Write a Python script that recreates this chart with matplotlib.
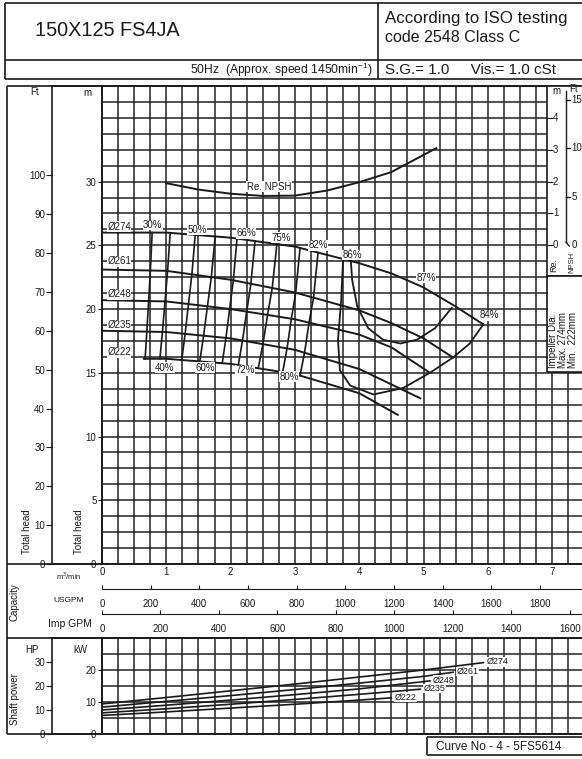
import numpy as np
import matplotlib
matplotlib.use('Agg')
import matplotlib.pyplot as plt
from matplotlib.patches import Rectangle

plt.rcParams['font.family'] = ['Liberation Sans', 'DejaVu Sans']

W, H = 582, 759
INK = '#1a1a1a'
GRID = '#2a2a2a'

# ---------------- data ----------------
diameters = ['Ø274', 'Ø261', 'Ø248', 'Ø235', 'Ø222']

# head curves: capacity (m3/min) and total head (m)
q_274 = [0.0, 1.0, 2.0, 3.0, 4.0, 4.5, 5.0, 5.5, 5.93]
h_274 = [26.0, 26.0, 25.6, 24.9, 23.6, 22.8, 21.7, 20.2, 18.8]
q_261 = [0.0, 1.0, 2.0, 3.0, 4.0, 4.5, 5.0, 5.46]
h_261 = [23.1, 23.0, 22.3, 21.3, 19.9, 18.9, 17.7, 16.2]
q_248 = [0.0, 1.0, 2.0, 3.0, 4.0, 4.5, 5.1]
h_248 = [20.7, 20.6, 20.0, 19.2, 18.0, 17.0, 15.0]
q_235 = [0.0, 1.0, 2.0, 3.0, 4.0, 4.95]
h_235 = [18.3, 18.2, 17.7, 16.8, 15.3, 13.0]
q_222 = [0.65, 1.0, 2.0, 3.0, 4.0, 4.6]
h_222 = [16.1, 16.1, 15.7, 14.9, 13.4, 11.7]

# iso-efficiency lines: capacity where each meets Ø274 ... Ø222
eff_labels = ['30%', '40%', '50%', '60%', '66%', '72%', '75%', '80%', '82%']
eff_q_top = [0.78, 1.06, 1.45, 1.76, 2.10, 2.38, 2.72, 3.08, 3.36]
eff_q_bot = [0.67, 0.90, 1.24, 1.52, 1.87, 2.12, 2.43, 2.81, 3.08]

# closed efficiency contours (capacity, head)
eff87_q = [3.86, 3.89, 3.97, 4.14, 4.37, 4.64, 4.90, 5.18, 5.44]
eff87_h = [24.6, 22.3, 20.2, 18.5, 17.6, 17.3, 17.6, 18.5, 20.1]
eff86_q = [3.75, 3.72, 3.67, 3.70, 3.86, 4.22, 4.68]
eff86_h = [24.0, 20.7, 17.6, 15.2, 14.0, 13.3, 13.8]
eff84_q = [5.93, 5.72, 5.46, 5.10, 4.68]
eff84_h = [18.8, 17.3, 16.2, 15.0, 13.8]

# required NPSH (m)
npsh_q = [1.0, 1.5, 2.0, 2.5, 3.0, 3.5, 4.0, 4.5, 5.2]
npsh_m = [1.95, 1.75, 1.62, 1.55, 1.56, 1.72, 1.98, 2.30, 3.05]

# shaft power (kW)
pq_274 = [0.0, 1.0, 2.0, 3.0, 4.0, 5.0, 5.93]
pk_274 = [9.4, 11.4, 13.5, 15.6, 17.8, 20.0, 22.3]
pq_261 = [0.0, 1.0, 2.0, 3.0, 4.0, 5.0, 5.46]
pk_261 = [8.4, 10.2, 12.0, 13.9, 15.9, 18.0, 19.3]
pq_248 = [0.0, 1.0, 2.0, 3.0, 4.0, 5.1]
pk_248 = [7.5, 9.0, 10.6, 12.3, 14.1, 16.6]
pq_235 = [0.0, 1.0, 2.0, 3.0, 4.0, 4.95]
pk_235 = [6.6, 7.9, 9.3, 10.8, 12.4, 14.0]
pq_222 = [0.0, 1.0, 2.0, 3.0, 4.0, 4.5]
pk_222 = [5.8, 6.9, 8.1, 9.3, 10.6, 11.3]

# scales / ticks
q_ticks = [0, 1, 2, 3, 4, 5, 6, 7]
usgpm_ticks = [0, 200, 400, 600, 800, 1000, 1200, 1400, 1600, 1800]
impgpm_ticks = [0, 200, 400, 600, 800, 1000, 1200, 1400, 1600]
head_m_ticks = [0, 5, 10, 15, 20, 25, 30]
head_ft_ticks = [0, 10, 20, 30, 40, 50, 60, 70, 80, 90, 100]
npsh_m_ticks = [0, 1, 2, 3, 4]
npsh_ft_ticks = [0, 5, 10, 15]
kw_ticks = [0, 10, 20]
hp_ticks = [0, 10, 20, 30]

M3MIN_TO_USGPM = 264.172
M3MIN_TO_IMPGPM = 219.969
FT = 0.3048
HP = 0.7457

# ---------------- layout helpers ----------------
QMAX = 7.5
X0, XPX = 102, 64.3
XR = X0 + QMAX * XPX
HMAX = 37.5


def fr(x0, y0, x1, y1):
    return [x0 / W, 1 - y1 / H, (x1 - x0) / W, (y1 - y0) / H]


fig = plt.figure(figsize=(W / 100, H / 100), dpi=100)

# ---------------- head chart ----------------
ax = fig.add_axes(fr(X0, 86, XR, 564))
ax.set_xlim(0, QMAX)
ax.set_ylim(0, HMAX)
ax.set_xticks(q_ticks)
ax.set_xticks(np.arange(0, QMAX + 0.01, 0.25), minor=True)
ax.set_yticks(head_m_ticks)
ax.set_yticks(np.arange(0, HMAX + 0.01, 1.25), minor=True)
ax.grid(which='both', color=GRID, lw=1.15)
ax.set_axisbelow(True)
ax.tick_params(axis='x', which='both', length=0, labelsize=7, pad=2, colors=INK)
ax.tick_params(axis='y', which='major', length=3, labelsize=7, pad=1, colors=INK)
ax.tick_params(axis='y', which='minor', length=0)
for s in ax.spines.values():
    s.set_color(INK)
    s.set_linewidth(1.2)

curves = [(q_274, h_274), (q_261, h_261), (q_248, h_248), (q_235, h_235), (q_222, h_222)]
for q, h in curves:
    ax.plot(q, h, color=INK, lw=1.4, zorder=3)

for i, lab in enumerate(eff_labels):
    qs = np.linspace(eff_q_top[i], eff_q_bot[i], len(curves))
    hs = [np.interp(qq, c[0], c[1]) for qq, c in zip(qs, curves)]
    ax.plot(qs, hs, color=INK, lw=1.2, zorder=3)

ax.plot(eff87_q, eff87_h, color=INK, lw=1.3, zorder=3)
ax.plot(eff86_q, eff86_h, color=INK, lw=1.3, zorder=3)
ax.plot(eff84_q, eff84_h, color=INK, lw=1.3, zorder=3)

npsh_head = [25 + 2.5 * v for v in npsh_m]
ax.plot(npsh_q, npsh_head, color=INK, lw=1.4, zorder=3)

lab_kw = dict(fontsize=7, color=INK, zorder=4)
top_pos = {'30%': (0.79, 26.6), '50%': (1.48, 26.2), '66%': (2.24, 25.95),
           '75%': (2.78, 25.6), '82%': (3.36, 25.0)}
bot_pos = {'40%': (0.98, 15.4), '60%': (1.60, 15.4), '72%': (2.22, 15.2),
           '80%': (2.91, 14.7)}
for lab, (x, y) in {**top_pos, **bot_pos}.items():
    ax.text(x, y, lab, ha='center', va='center',
            bbox=dict(fc='white', ec='none', pad=0.3), **lab_kw)
ax.text(3.89, 24.25, '86%', ha='center', va='center', bbox=dict(fc='white', ec='none', pad=0.3), **lab_kw)
ax.text(5.04, 22.45, '87%', ha='center', va='center', bbox=dict(fc='white', ec='none', pad=0.3), **lab_kw)
ax.text(6.02, 19.5, '84%', ha='center', va='center', bbox=dict(fc='white', ec='none', pad=0.3), **lab_kw)
ax.text(2.25, 29.6, 'Re. NPSH', ha='left', va='center', bbox=dict(fc='white', ec='none', pad=0.3), **lab_kw)

d_pos = [26.45, 23.75, 21.15, 18.75, 16.6]
for lab, y in zip(diameters, d_pos):
    ax.text(0.08, y, lab, ha='left', va='center',
            bbox=dict(fc='white', ec='none', pad=0.3), **lab_kw)

# Ft scale (m-column box)
axf = fig.add_axes(fr(52, 86, X0, 564))
axf.set_facecolor('none')
axf.set_ylim(0, HMAX / FT)
axf.set_xlim(0, 1)
axf.set_yticks(head_ft_ticks)
axf.set_xticks([])
axf.tick_params(axis='y', length=4, labelsize=7, pad=1, colors=INK)
for s in axf.spines.values():
    s.set_color(INK)
    s.set_linewidth(1.2)
axf.text(0.7, 0.985, 'm', transform=axf.transAxes, ha='center', va='center', fontsize=7, color=INK)

# ---------------- NPSH panel (right) ----------------
h_top = HMAX
h_bot = HMAX * (564 - 276) / 478
axn = fig.add_axes(fr(547, 86, 600, 276))
axn.set_zorder(5)
axn.set_facecolor('white')
axn.set_xlim(0, 1)
axn.set_ylim((h_bot - 25) / 2.5, (h_top - 25) / 2.5)
axn.set_yticks(npsh_m_ticks)
axn.set_xticks([])
axn.tick_params(axis='y', direction='in', length=4, labelleft=False, colors=INK)
for k, s in axn.spines.items():
    s.set_color(INK)
    s.set_linewidth(1.2)
    s.set_visible(k in ('left', 'bottom'))
ytr = axn.get_yaxis_transform()
for v in npsh_m_ticks:
    axn.text(0.11, v, str(v), transform=ytr, ha='left', va='center', fontsize=7, color=INK)
fx = 19 / 53
ft_m = [v * FT for v in npsh_ft_ticks]
axn.plot([fx, fx], [0.1, 4.85], transform=ytr, color=INK, lw=1.0)
axn.plot([fx, fx + 0.06], [0.1, -0.02], transform=ytr, color=INK, lw=1.0)
for v, m in zip(npsh_ft_ticks, ft_m):
    if v > 0:
        axn.plot([fx, fx + 0.07], [m, m], transform=ytr, color=INK, lw=1.0)
    axn.text(fx + 0.10, m, str(v), transform=ytr, ha='left', va='center', fontsize=7, color=INK)
axn.text(0.1, 0.975, 'm', transform=axn.transAxes, ha='left', va='center', fontsize=7, color=INK)
axn.text(0.42, 0.985, 'Ft', transform=axn.transAxes, ha='left', va='center', fontsize=7, color=INK)
axn.text(0.12, 0.02, 'Re.', transform=axn.transAxes, rotation=90, rotation_mode='anchor',
         ha='left', va='center', fontsize=6.5, color=INK)
axn.text(0.47, 0.015, 'NPSH', transform=axn.transAxes, rotation=90, rotation_mode='anchor',
         ha='left', va='center', fontsize=5.5, color=INK)

# ---------------- capacity scales ----------------
axu = fig.add_axes(fr(X0, 589, XR, 591))
axu.set_xlim(0, QMAX * M3MIN_TO_USGPM)
axu.set_xticks(usgpm_ticks)
axu.set_yticks([])
axu.set_facecolor('none')
axu.tick_params(axis='x', top=True, bottom=False, labeltop=False, labelbottom=True,
                direction='out', length=3, labelsize=7, pad=3, colors=INK)
for k, s in axu.spines.items():
    s.set_visible(k == 'top')
    s.set_color(INK)

axi = fig.add_axes(fr(X0, 614, XR, 616))
axi.set_xlim(0, QMAX * M3MIN_TO_IMPGPM)
axi.set_xticks(impgpm_ticks)
axi.set_yticks([])
axi.set_facecolor('none')
axi.tick_params(axis='x', top=True, bottom=False, labeltop=False, labelbottom=True,
                direction='out', length=3, labelsize=7, pad=3, colors=INK)
for k, s in axi.spines.items():
    s.set_visible(k == 'top')
    s.set_color(INK)

# ---------------- shaft power ----------------
axp = fig.add_axes(fr(X0, 638, XR, 734))
axp.set_xlim(0, QMAX)
axp.set_ylim(0, 30)
axp.set_xticks(np.arange(0, QMAX + 0.01, 0.25))
axp.set_yticks(kw_ticks)
axp.set_yticks(np.arange(0, 30.1, 5), minor=True)
axp.grid(which='both', color=GRID, lw=1.15)
axp.set_axisbelow(True)
axp.tick_params(axis='x', length=0, labelbottom=False)
axp.tick_params(axis='y', which='major', length=3, labelsize=7, pad=1, colors=INK)
axp.tick_params(axis='y', which='minor', length=0)
for s in axp.spines.values():
    s.set_color(INK)
    s.set_linewidth(1.2)
pcurves = [(pq_274, pk_274), (pq_261, pk_261), (pq_248, pk_248), (pq_235, pk_235), (pq_222, pk_222)]
for (q, k), lab in zip(pcurves, diameters):
    axp.plot(q, k, color=INK, lw=1.2, zorder=3)
    axp.text(q[-1] + 0.05, k[-1] + 0.2, lab, ha='left', va='center', fontsize=6.5, color=INK,
             bbox=dict(fc='white', ec='none', pad=0.2), zorder=4)

axh = fig.add_axes(fr(52, 638, X0, 734))
axh.set_facecolor('none')
axh.set_ylim(0, 30 / HP)
axh.set_xlim(0, 1)
axh.set_yticks(hp_ticks)
axh.set_xticks([])
axh.tick_params(axis='y', length=4, labelsize=7, pad=1, colors=INK)
for s in axh.spines.values():
    s.set_color(INK)
    s.set_linewidth(1.2)

# ---------------- overlay (frames and titles) ----------------
ov = fig.add_axes([0, 0, 1, 1])
ov.set_zorder(10)
ov.set_xlim(0, W)
ov.set_ylim(H, 0)
ov.axis('off')
ov.patch.set_visible(False)


def L(xs, ys, lw=1.2):
    ov.plot(xs, ys, color=INK, lw=lw, solid_capstyle='butt')


# header
L([5, 600], [3, 3])
L([5, 600], [79, 79])
L([5, 600], [60, 60])
L([5, 5], [3, 79])
L([378, 378], [3, 79])
ov.text(35, 30, '150X125 FS4JA', fontsize=14.3, ha='left', va='center', color=INK)
ov.text(385, 18, 'According to ISO testing', fontsize=12.2, ha='left', va='center', color=INK)
ov.text(385, 38, 'code 2548 Class C', fontsize=11.5, ha='left', va='center', color=INK)
ov.text(373, 70, r'50Hz  (Approx. speed 1450min$^{\mathregular{-1}}$)', fontsize=8.7, ha='right', va='center', color=INK)
ov.text(385, 70, 'S.G.= 1.0     Vis.= 1.0 cSt', fontsize=11, ha='left', va='center', color=INK)

# chart frame
L([7, 7], [86, 734])
L([7, 600], [86, 86])
L([7, 600], [564, 564])
L([7, 600], [638, 638])
L([7, 600], [734, 734])

# right panel (impeller)
ov.add_patch(Rectangle((547.5, 276), 60, 96, fc='white', ec='none'))
L([547, 547], [276, 372])
L([547, 600], [276, 276])
L([547, 600], [372, 372])
for x, t in [(553, 'Impeller Dia.'), (563, 'Max. 274mm'), (573, 'Min.  222mm')]:
    ov.text(x, 368, t, rotation=90, rotation_mode='anchor', ha='left', va='center', fontsize=7, color=INK)

# left labels
ov.text(35, 92, 'Ft', fontsize=7, ha='center', va='center', color=INK)
ov.text(27, 532, 'Total head', rotation=90, fontsize=7, ha='center', va='center', color=INK)
ov.text(79, 532, 'Total head', rotation=90, fontsize=7, ha='center', va='center', color=INK)
ov.text(14, 602, 'Capacity', rotation=90, fontsize=7, ha='center', va='center', color=INK)
ov.text(69, 576, r'm$^{\mathregular{3}}$/min', fontsize=5.5, ha='center', va='center', color=INK)
ov.text(69, 600, 'USGPM', fontsize=6, ha='center', va='center', color=INK)
ov.text(70, 624, 'Imp GPM', fontsize=7.5, ha='center', va='center', color=INK)
ov.text(15, 699, 'Shaft power', rotation=90, fontsize=7, ha='center', va='center', color=INK)
ov.text(32, 650, 'HP', fontsize=7, ha='center', va='center', color=INK)
ov.text(80, 650, 'kW', fontsize=7, ha='center', va='center', color=INK)

# curve number box
L([427, 600], [737, 737])
L([427, 600], [755, 755])
L([427, 427], [737, 755])
ov.text(436, 746.5, 'Curve No - 4 - 5FS5614', fontsize=8.5, ha='left', va='center', color=INK)

fig.savefig('out.png', dpi=100, facecolor='white')
